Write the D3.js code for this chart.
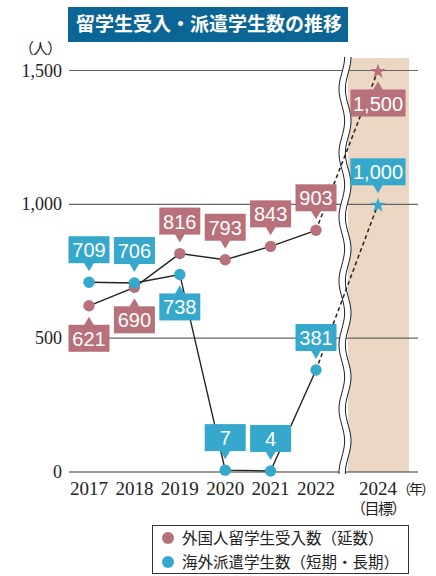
<!DOCTYPE html>
<html><head><meta charset="utf-8">
<script src="https://cdn.jsdelivr.net/npm/d3@7"></script>
<style>
html,body{margin:0;padding:0;background:#fff;}
svg{display:block;}
</style></head>
<body>
<script>
// ---- data ----
const years = [2017, 2018, 2019, 2020, 2021, 2022];
const targetYear = 2024;
const intlStudents = [621, 690, 816, 793, 843, 903];   // 外国人留学生受入数（延数）
const intlTarget = 1500;
const dispatched = [709, 706, 738, 7, 4, 381];          // 海外派遣学生数（短期・長期）
const dispatchedTarget = 1000;
const yTicks = [0, 500, 1000, 1500];
const xTickLabels = ["2017", "2018", "2019", "2020", "2021", "2022", "2024"];
const seriesNames = ["外国人留学生受入数（延数）", "海外派遣学生数（短期・長期）"];
const title = "留学生受入・派遣学生数の推移";
// label side: 1 = below the point, -1 = above
const intlSide = [1, 1, -1, -1, -1, -1];
const dispSide = [-1, -1, 1, -1, -1, -1];

const PINK = "#b8707a", BLUE = "#35a8cc", BEIGE = "#ebd7c4", TITLE = "#0b6595";
const W = 436, H = 576;
const serif = "'Liberation Serif','DejaVu Serif',serif";
const jp = "'Noto Sans CJK JP',sans-serif";
const sans = "'Liberation Sans',Arial,sans-serif";

const svg = d3.select("body").append("svg").attr("width", W).attr("height", H);

const x = d3.scaleLinear().domain([2017, 2022, 2024]).range([89, 316, 378]);
const y = d3.scaleLinear().domain([0, 1500]).range([472, 70.5]);
const gridX0 = 69, gridX1 = 418;
const bandX0 = 348, bandX1 = 409, bandTop = 58;

// title
svg.append("rect").attr("x", 68).attr("y", 7).attr("width", 280).attr("height", 35).attr("fill", TITLE);
svg.append("text").attr("x", 76).attr("y", 31).attr("fill", "#fff")
  .attr("font-family", jp).attr("font-weight", "bold").attr("font-size", 19).text(title);

// unit
svg.append("text").attr("x", 61).attr("y", 54).attr("text-anchor", "end")
  .attr("font-family", jp).attr("font-size", 15).attr("letter-spacing", -1).attr("fill", "#222").text("（人）");

// beige target band
svg.append("rect").attr("x", bandX0).attr("y", bandTop).attr("width", bandX1 - bandX0)
  .attr("height", y(0) - bandTop).attr("fill", BEIGE);

// gridlines
svg.append("g").selectAll("line").data(yTicks).join("line")
  .attr("x1", gridX0).attr("x2", gridX1)
  .attr("y1", d => y(d)).attr("y2", d => y(d))
  .attr("stroke", d => d === 0 ? "#333" : "#666").attr("stroke-width", 1.1);

// y tick labels
svg.append("g").selectAll("text").data(yTicks).join("text")
  .attr("x", 62).attr("y", d => y(d) + 6).attr("text-anchor", "end")
  .attr("font-family", serif).attr("font-size", 18).attr("fill", "#222")
  .text(d => d3.format(",")(d));

// wavy break
const brkTop = bandTop - 1, brkBot = y(0) + 2, cx = 345, amp = 2.8, period = 64, half = 3.2;
const ys = d3.range(brkTop, brkBot + 0.5, 1);
const edge = off => ys.map(v => [cx + off + amp * Math.sin((v - brkTop) / period * 2 * Math.PI + Math.PI / 2), v]);
const leftE = edge(-half), rightE = edge(half);
svg.append("path").attr("d", d3.line()(leftE.concat(rightE.slice().reverse())) + "Z").attr("fill", "#fff");
svg.append("path").attr("d", d3.line()(leftE)).attr("fill", "none").attr("stroke", "#222").attr("stroke-width", 1);
svg.append("path").attr("d", d3.line()(rightE)).attr("fill", "none").attr("stroke", "#222").attr("stroke-width", 1);

// lines
const line = d3.line().x(d => x(d[0])).y(d => y(d[1]));
const intlPts = years.map((yr, i) => [yr, intlStudents[i]]);
const dispPts = years.map((yr, i) => [yr, dispatched[i]]);
[dispPts, intlPts].forEach(pts => {
  svg.append("path").attr("d", line(pts)).attr("fill", "none").attr("stroke", "#222").attr("stroke-width", 1.4);
});
// dashed projections
[[intlPts[5], [targetYear, intlTarget]], [dispPts[5], [targetYear, dispatchedTarget]]].forEach(seg => {
  svg.append("path").attr("d", line(seg)).attr("fill", "none").attr("stroke", "#222")
    .attr("stroke-width", 1.5).attr("stroke-dasharray", "4,3");
});

// points
svg.append("g").selectAll("circle").data(intlPts).join("circle")
  .attr("cx", d => x(d[0])).attr("cy", d => y(d[1])).attr("r", 5.7).attr("fill", PINK);
svg.append("g").selectAll("circle").data(dispPts).join("circle")
  .attr("cx", d => x(d[0])).attr("cy", d => y(d[1])).attr("r", 5.7).attr("fill", BLUE);
// stars
const star = d3.symbol(d3.symbolStar).size(72);
[[targetYear, intlTarget, PINK], [targetYear, dispatchedTarget, BLUE]].forEach(s => {
  svg.append("path").attr("d", star()).attr("transform", `translate(${x(s[0])},${y(s[1]) + 1})`).attr("fill", s[2]);
});

// value labels
function label(px, py, text, side, color) {
  const g = svg.append("g");
  const t = g.append("text").attr("font-family", sans).attr("font-size", 20).attr("fill", "#fff")
    .attr("text-anchor", "middle").text(text);
  const tw = t.node().getComputedTextLength();
  const bw = Math.max(41, tw + 5), bh = 27;
  const edgeY = py + side * 19;
  const top = side > 0 ? edgeY : edgeY - bh;
  g.insert("rect", "text").attr("x", px - bw / 2).attr("y", top).attr("width", bw).attr("height", bh).attr("fill", color);
  const tip = py + side * 11;
  g.insert("path", "text").attr("d", `M${px - 5},${edgeY + side * 0.5}L${px + 5},${edgeY + side * 0.5}L${px},${tip}Z`).attr("fill", color);
  t.attr("x", px).attr("y", top + 21);
}
intlPts.forEach((d, i) => label(x(d[0]), y(d[1]), d3.format(",")(d[1]), intlSide[i], PINK));
dispPts.forEach((d, i) => label(x(d[0]), y(d[1]), d3.format(",")(d[1]), dispSide[i], BLUE));
label(x(targetYear), y(intlTarget), d3.format(",")(intlTarget), 1, PINK);
label(x(targetYear), y(dispatchedTarget), d3.format(",")(dispatchedTarget), -1, BLUE);

// x labels
const allYears = years.concat([targetYear]);
svg.append("g").selectAll("text").data(allYears).join("text")
  .attr("x", d => x(d)).attr("y", 495).attr("text-anchor", "middle")
  .attr("font-family", serif).attr("font-size", 19).attr("fill", "#222")
  .text((d, i) => xTickLabels[i]);
svg.append("text").attr("x", x(targetYear) + 19).attr("y", 494)
  .attr("font-family", jp).attr("font-size", 14).attr("letter-spacing", -2).attr("fill", "#222").text("（年）");
svg.append("text").attr("x", x(targetYear)).attr("y", 514).attr("text-anchor", "middle")
  .attr("font-family", jp).attr("font-size", 15).attr("fill", "#222").attr("letter-spacing", -1.5).text("（目標）");

// legend
svg.append("rect").attr("x", 152.5).attr("y", 525.5).attr("width", 256).attr("height", 48)
  .attr("fill", "#fff").attr("stroke", "#333").attr("stroke-width", 1);
[PINK, BLUE].forEach((c, i) => {
  svg.append("circle").attr("cx", 168).attr("cy", 538 + i * 24).attr("r", 6).attr("fill", c);
  svg.append("text").attr("x", 182).attr("y", 544 + i * 24).attr("font-family", jp)
    .attr("font-size", 15.5).attr("fill", "#222").text(seriesNames[i]);
});
</script>
</body></html>
